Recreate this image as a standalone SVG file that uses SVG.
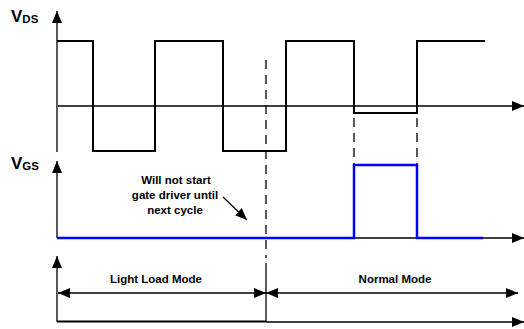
<svg xmlns="http://www.w3.org/2000/svg" width="524" height="329" viewBox="0 0 524 329">
<style>
.ax{stroke:#000;stroke-width:1.3;fill:none}
.wv{stroke:#000;stroke-width:2;fill:none;stroke-linejoin:miter}
.bl{stroke:#0000ff;stroke-width:2.5;fill:none}
.ds{stroke:#000;stroke-width:1.3;fill:none;stroke-dasharray:9,6}
.hd{fill:#000}
text{font-family:"Liberation Sans",Arial,sans-serif;font-weight:bold;fill:#000}
.big{font-size:17px}
.sub{font-size:11.5px}
.lbl{font-size:11.5px;text-anchor:middle}
</style>
<defs>
<marker id="ah" viewBox="0 0 12 10" refX="12" refY="5" markerWidth="12" markerHeight="10" markerUnits="userSpaceOnUse" orient="auto-start-reverse">
<path d="M0,0 L12,5 L0,10 Z" class="hd"/>
</marker>
</defs>
<g id="labels">
<text x="11" y="22" class="big">V<tspan class="sub" dy="1">DS</tspan></text>
<text x="11" y="169" class="big">V<tspan class="sub" dy="1">GS</tspan></text>
<text x="176" y="184" class="lbl">Will not start</text>
<text x="175" y="199" class="lbl">gate driver until</text>
<text x="175" y="214" class="lbl">next cycle</text>
<text x="156" y="283" class="lbl">Light Load Mode</text>
<text x="395" y="283" class="lbl">Normal Mode</text>
</g>
<g id="connectors">
<line class="ax" x1="57" y1="152" x2="57" y2="11" marker-end="url(#ah)"/>
<line class="ax" x1="58" y1="106" x2="524" y2="106" marker-end="url(#ah)"/>
<line class="ax" x1="57" y1="238" x2="57" y2="161" marker-end="url(#ah)"/>
<line class="ax" x1="57" y1="238" x2="524" y2="238" marker-end="url(#ah)"/>
<line class="ax" x1="57" y1="322" x2="57" y2="256" marker-end="url(#ah)"/>
<line class="ax" x1="266" y1="322" x2="524" y2="322" marker-end="url(#ah)"/>
<line stroke="#000" stroke-width="2" x1="57" y1="321.5" x2="266" y2="321.5"/>
<line class="ax" x1="58" y1="293" x2="266" y2="293" marker-start="url(#ah)" marker-end="url(#ah)"/>
<line class="ax" x1="266" y1="293" x2="518" y2="293" marker-start="url(#ah)" marker-end="url(#ah)"/>
<line class="ds" x1="266" y1="60" x2="266" y2="258"/>
<line class="ax" x1="266" y1="263" x2="266" y2="322"/>
<line class="ds" x1="354" y1="118" x2="354" y2="165"/>
<line class="ds" x1="417" y1="118" x2="417" y2="165"/>
<line class="ax" x1="223" y1="197" x2="247" y2="220" marker-end="url(#ah)"/>
</g>
<g id="vds">
<polyline class="wv" points="57,41 93,41 93,151 155,151 155,41 223,41 223,151 286,151 286,41 354,41 354,113 417,113 417,41 485,41"/>
</g>
<g id="vgs">
<polyline class="bl" points="57,238 354,238 354,165 417,165 417,238 483,238"/>
</g>
</svg>
